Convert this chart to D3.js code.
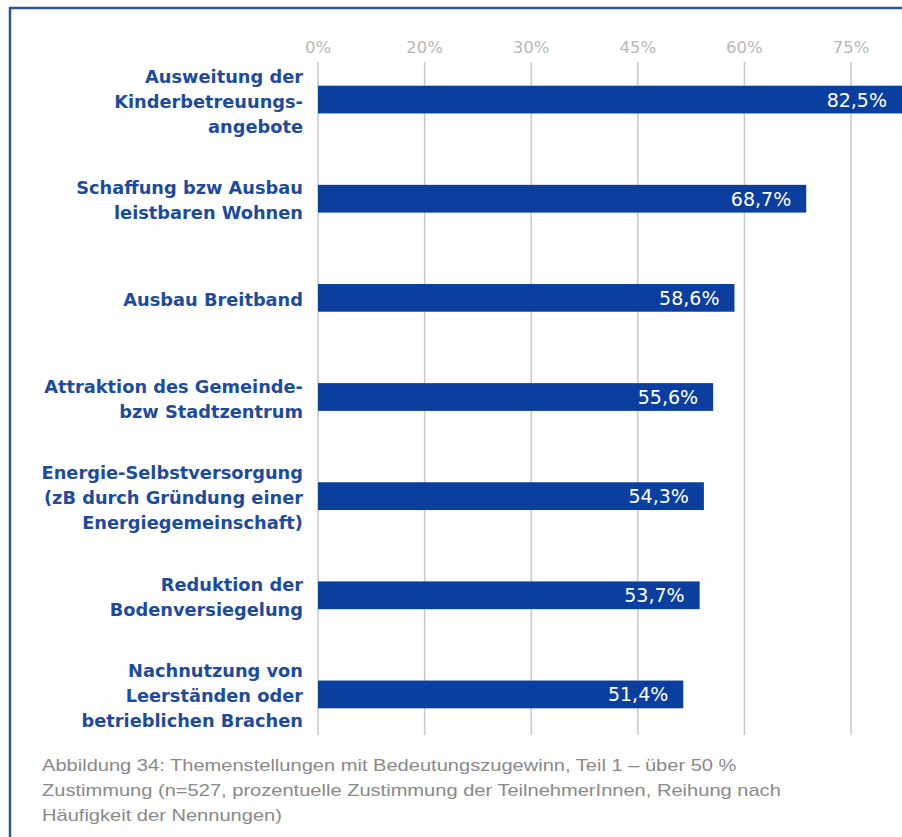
<!DOCTYPE html>
<html><head><meta charset="utf-8">
<script src="https://cdn.jsdelivr.net/npm/d3@7"></script>
<style>body{margin:0;background:#fff;}svg{display:block;}</style>
</head><body>
<script>
const categories = [
  ["Ausweitung der", "Kinderbetreuungs-", "angebote"],
  ["Schaffung bzw Ausbau", "leistbaren Wohnen"],
  ["Ausbau Breitband"],
  ["Attraktion des Gemeinde-", "bzw Stadtzentrum"],
  ["Energie-Selbstversorgung", "(zB durch Gründung einer", "Energiegemeinschaft)"],
  ["Reduktion der", "Bodenversiegelung"],
  ["Nachnutzung von", "Leerständen oder", "betrieblichen Brachen"]
];
const values = [82.5, 68.7, 58.6, 55.6, 54.3, 53.7, 51.4];
const valueLabels = ["82,5%", "68,7%", "58,6%", "55,6%", "54,3%", "53,7%", "51,4%"];
const tickValues = [0, 15, 30, 45, 60, 75];
const tickLabels = ["0%", "20%", "30%", "45%", "60%", "75%"];
const caption = [
  "Abbildung 34: Themenstellungen mit Bedeutungszugewinn, Teil 1 – über 50 %",
  "Zustimmung (n=527, prozentuelle Zustimmung der TeilnehmerInnen, Reihung nach",
  "Häufigkeit der Nennungen)"
];

const W = 902, H = 837;
const svg = d3.select("body").append("svg").attr("width", W).attr("height", H);

// frame
svg.append("path").attr("d", `M10,${H} L10,8 L${W},8`).attr("fill","none")
  .attr("stroke","#2f5590").attr("stroke-width",2.5);

const x = d3.scaleLinear().domain([0, 75]).range([318, 851]);
const y = d3.scaleBand().domain(d3.range(values.length)).range([50, 744]).paddingInner(0.72).paddingOuter(0.36);

// gridlines
svg.append("g").selectAll("line").data(tickValues).join("line")
  .attr("x1", d => x(d)).attr("x2", d => x(d))
  .attr("y1", 62).attr("y2", 735)
  .attr("stroke", "#c8c8c8").attr("stroke-width", 1.5);

// tick labels
svg.append("g").selectAll("text").data(tickValues).join("text")
  .attr("x", d => x(d)).attr("y", 53).attr("text-anchor","middle")
  .attr("font-family","DejaVu Sans, sans-serif").attr("font-size",16.5)
  .attr("fill","#b8b8b8").text((d,i) => tickLabels[i]);

// bars
svg.append("g").selectAll("rect").data(values).join("rect")
  .attr("x", x(0)).attr("y", (d,i) => y(i))
  .attr("width", d => x(d) - x(0)).attr("height", y.bandwidth())
  .attr("fill", "#0a3f9f");

// value labels
svg.append("g").selectAll("text").data(values).join("text")
  .attr("x", d => Math.min(x(d), W) - 15).attr("y", (d,i) => y(i) + y.bandwidth()/2 + 7)
  .attr("text-anchor","end")
  .attr("font-family","DejaVu Sans, sans-serif").attr("font-size",19)
  .attr("fill","#ffffff").text((d,i) => valueLabels[i]);

// category labels
const lh = 25;
const cat = svg.append("g").selectAll("text").data(categories).join("text")
  .attr("text-anchor","end")
  .attr("font-family","DejaVu Sans, sans-serif").attr("font-weight","bold").attr("font-size",17.8)
  .attr("fill","#1c4ba0");
cat.each(function(lines, i) {
  const cy = y(i) + y.bandwidth()/2;
  const y0 = cy - (lines.length - 1) * lh / 2 + 8;
  d3.select(this).selectAll("tspan").data(lines).join("tspan")
    .attr("x", 303).attr("y", (d,j) => y0 + j*lh).text(d => d);
});

// caption
const capG = svg.append("g");
const capT = capG.selectAll("text").data(caption).join("text")
  .attr("x", 0).attr("y", (d,i) => i*25)
  .attr("font-family","Liberation Sans, Arial, sans-serif").attr("font-size",17)
  .attr("fill","#8a8a8a").text(d => d);
const w1 = capT.node().getComputedTextLength();
capG.attr("transform", `translate(42,771) scale(${695 / w1},1)`);
</script>
</body></html>
